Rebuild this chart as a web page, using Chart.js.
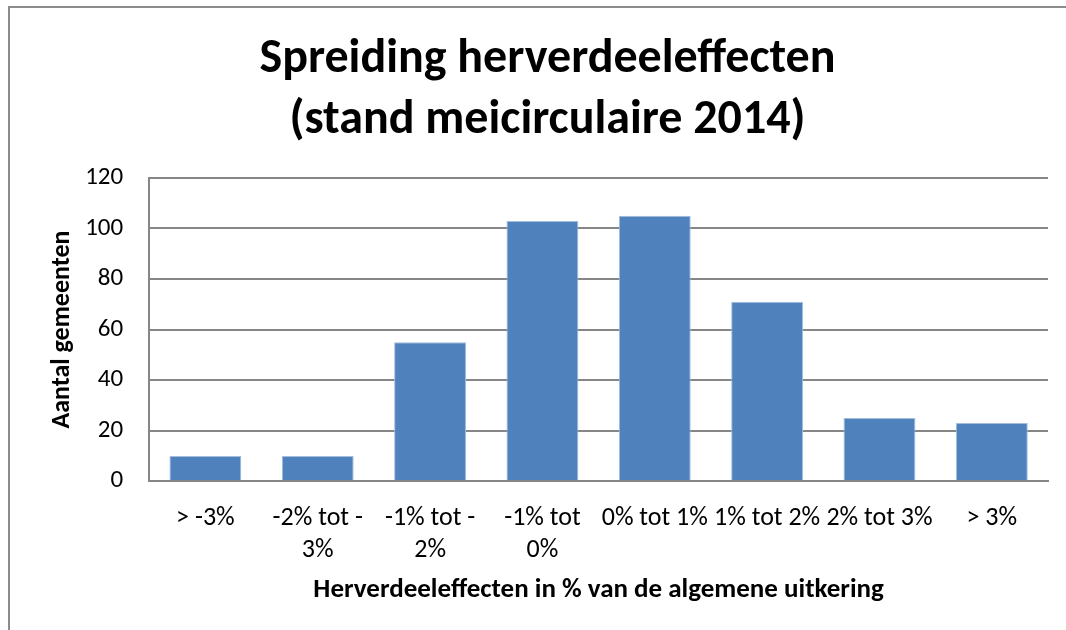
<!DOCTYPE html>
<html>
<head>
<meta charset="utf-8">
<script src="https://cdn.jsdelivr.net/npm/chart.js@4.4.1/dist/chart.umd.min.js"></script>
<style>
    html, body { margin: 0; padding: 0; background: #fff; }
    #wrap { position: relative; width: 1066px; height: 630px; }
    #frame {
        position: absolute; left: 8px; top: 6px; right: 0; bottom: 0;
        border-top: 2px solid #8c8c8c; border-left: 2px solid #8c8c8c;
    }
    canvas { position: absolute; left: 0; top: 0; }
</style>
</head>
<body>
<div id="wrap">
    <div id="frame"></div>
    <canvas id="chart" width="1066" height="630"></canvas>
</div>
<script>
    // Data
    const categories = [
        '> -3%',
        ['-2% tot -', '3%'],
        ['-1% tot -', '2%'],
        ['-1% tot', '0%'],
        '0% tot 1%',
        '1% tot 2%',
        '2% tot 3%',
        '> 3%'
    ];
    const gemeenten = [10, 10, 55, 103, 105, 71, 25, 23];
    const yTicks = [0, 20, 40, 60, 80, 100, 120];

    const titleLines = ['Spreiding herverdeeleffecten', '(stand meicirculaire 2014)'];
    const xTitle = 'Herverdeeleffecten in % van de algemene uitkering';
    const yTitle = 'Aantal gemeenten';

    const FONT = "Carlito, 'Liberation Sans Narrow', 'Open Sans', sans-serif";
    Chart.defaults.font.family = FONT;
    Chart.defaults.color = '#000';

    const ctx = document.getElementById('chart').getContext('2d');
    new Chart(ctx, {
        type: 'bar',
        data: {
            labels: categories,
            datasets: [{
                label: yTitle,
                data: gemeenten,
                backgroundColor: '#4f81bd',
                borderColor: '#a3bddd',
                borderWidth: { top: 1, left: 1, right: 1, bottom: 0 },
                categoryPercentage: 1.0,
                barPercentage: 0.64
            }]
        },
        options: {
            responsive: false,
            animation: false,
            layout: { padding: { left: 47, right: 18, top: 12, bottom: 24 } },
            plugins: {
                legend: { display: false },
                tooltip: { enabled: false },
                title: {
                    display: true,
                    text: titleLines,
                    color: '#000',
                    font: { size: 48, weight: 'bold', lineHeight: 1.27 },
                    padding: { top: 18, bottom: 26 }
                }
            },
            scales: {
                x: {
                    grid: { display: false, drawTicks: false },
                    border: { color: '#868686', width: 2 },
                    ticks: {
                        color: '#000',
                        font: { size: 26, lineHeight: 1.2 },
                        maxRotation: 0,
                        autoSkip: false,
                        padding: 22
                    },
                    title: {
                        display: true,
                        text: xTitle,
                        color: '#000',
                        font: { size: 27, weight: 'bold' },
                        padding: { top: -14, bottom: 0 }
                    }
                },
                y: {
                    min: 0,
                    max: 120,
                    afterBuildTicks: axis => { axis.ticks = yTicks.map(v => ({ value: v })); },
                    grid: { color: '#868686', lineWidth: 2, drawTicks: false },
                    border: { color: '#868686', width: 2 },
                    ticks: {
                        color: '#000',
                        font: { size: 25 },
                        padding: 26
                    },
                    title: {
                        display: true,
                        text: yTitle,
                        color: '#000',
                        font: { size: 26, weight: 'bold' },
                        padding: { top: 0, bottom: -19 }
                    }
                }
            }
        }
    });
</script>
</body>
</html>
